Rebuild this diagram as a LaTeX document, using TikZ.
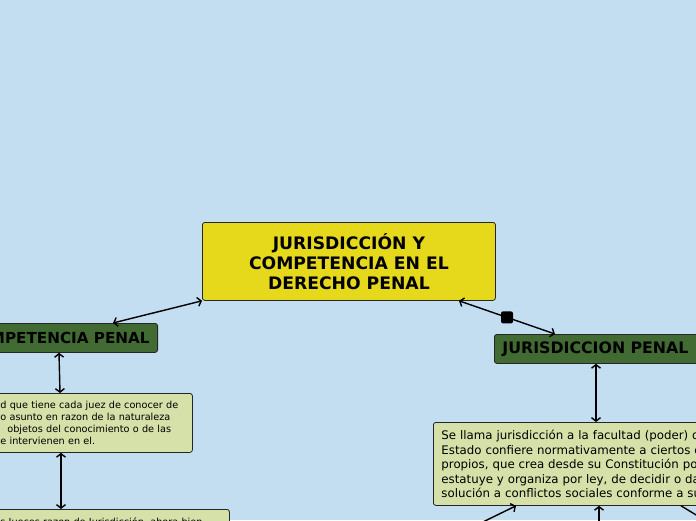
\documentclass[tikz,border=0pt]{standalone}
\usepackage{fontspec}
\setmainfont{DejaVu Sans}
\usetikzlibrary{arrows.meta,calc}
\definecolor{bgblue}{HTML}{C3DEF1}
\definecolor{titleyellow}{HTML}{E6D91C}
\definecolor{darkgreen}{HTML}{426B33}
\definecolor{paper}{HTML}{D6E0A9}
\begin{document}
\begin{tikzpicture}[x=1pt,y=-1pt,
  box/.style={draw=black!85, line width=0.8pt, rounded corners=2.5pt, anchor=north west, inner ysep=0pt},
  titlebox/.style={box, fill=titleyellow, font=\fontsize{17.2}{20}\selectfont\bfseries, align=center, minimum width=293pt, minimum height=78pt},
  greenbox/.style={box, fill=darkgreen, font=\fontsize{15.8}{17}\selectfont\bfseries, minimum height=29pt},
  parabox/.style={box, fill=paper, align=left},
  link/.style={line width=1.4pt, black},
  dbl/.style={link, {Straight Barb[length=3.5pt,width=9pt]}-{Straight Barb[length=3.5pt,width=9pt]}},
  tip/.style={link, -{Straight Barb[length=3.5pt,width=9pt]}}
]
\useasboundingbox (0,0) rectangle (696,520);
\fill[bgblue] (0,0) rectangle (696,520);

\node[titlebox] (c) at (202,222) {JURISDICCIÓN Y\\COMPETENCIA EN EL\\DERECHO PENAL};
\node[greenbox, anchor=north east, inner xsep=8pt, font=\fontsize{15.2}{17}\selectfont\bfseries] (lg) at (158,323) {COMPETENCIA PENAL};
\node[greenbox, text width=210pt, inner xsep=8pt, align=left] (rg) at (494,334) {JURISDICCION PENAL};
\node[parabox, font=\fontsize{9.7}{11.7}\selectfont, text width=186pt, inner xsep=6pt, minimum height=59pt] (lp) at (-6,393)
  {d que tiene cada juez de conocer de\\o asunto en razon de la naturaleza\\\hspace*{7pt}objetos del conocimiento o de las\\e intervienen en el.};
\node[parabox, font=\fontsize{11.8}{14.5}\selectfont, text width=340pt, inner xsep=8pt, minimum height=83pt] (rp) at (433,422)
  {Se llama jurisdicción a la facultad (poder) que el\\Estado confiere normativamente a ciertos órganos\\propios, que crea desde su Constitución política,\\estatuye y organiza por ley, de decidir o dar\\solución a conflictos sociales conforme a su derecho.};
\node[parabox, font=\fontsize{9.7}{11.7}\selectfont, text width=223pt, inner xsep=6pt, inner ysep=8pt, text depth=25pt] (bp) at (-6,509)
  {s Jueces razon de Jurisdicción, ahora bien};

\coordinate (o1) at (446,540);
\coordinate (o2) at (599,545);
\coordinate (o3) at (716,527);

\draw[dbl] (c.south west) -- ([xshift=-45pt]lg.north east);
\draw[dbl] ([xshift=257pt]c.south west) -- node[fill=black, rounded corners=2pt, minimum size=12pt, inner sep=0pt]{} ([xshift=61pt]rg.north west);
\draw[dbl] ([xshift=-99pt]lg.south east) -- ([xshift=66pt]lp.north west);
\draw[dbl] ([xshift=67pt]lp.south west) -- ([xshift=67pt]bp.north west);
\draw[dbl] ([xshift=102pt]rg.south west) -- ([xshift=163pt]rp.north west);
\draw[tip] (o1) -- ([xshift=83pt]rp.south west);
\draw[tip] (o2) -- ([xshift=166pt]rp.south west);
\draw[tip] ([xshift=248pt]rp.south west) -- (o3);
\end{tikzpicture}
\end{document}
